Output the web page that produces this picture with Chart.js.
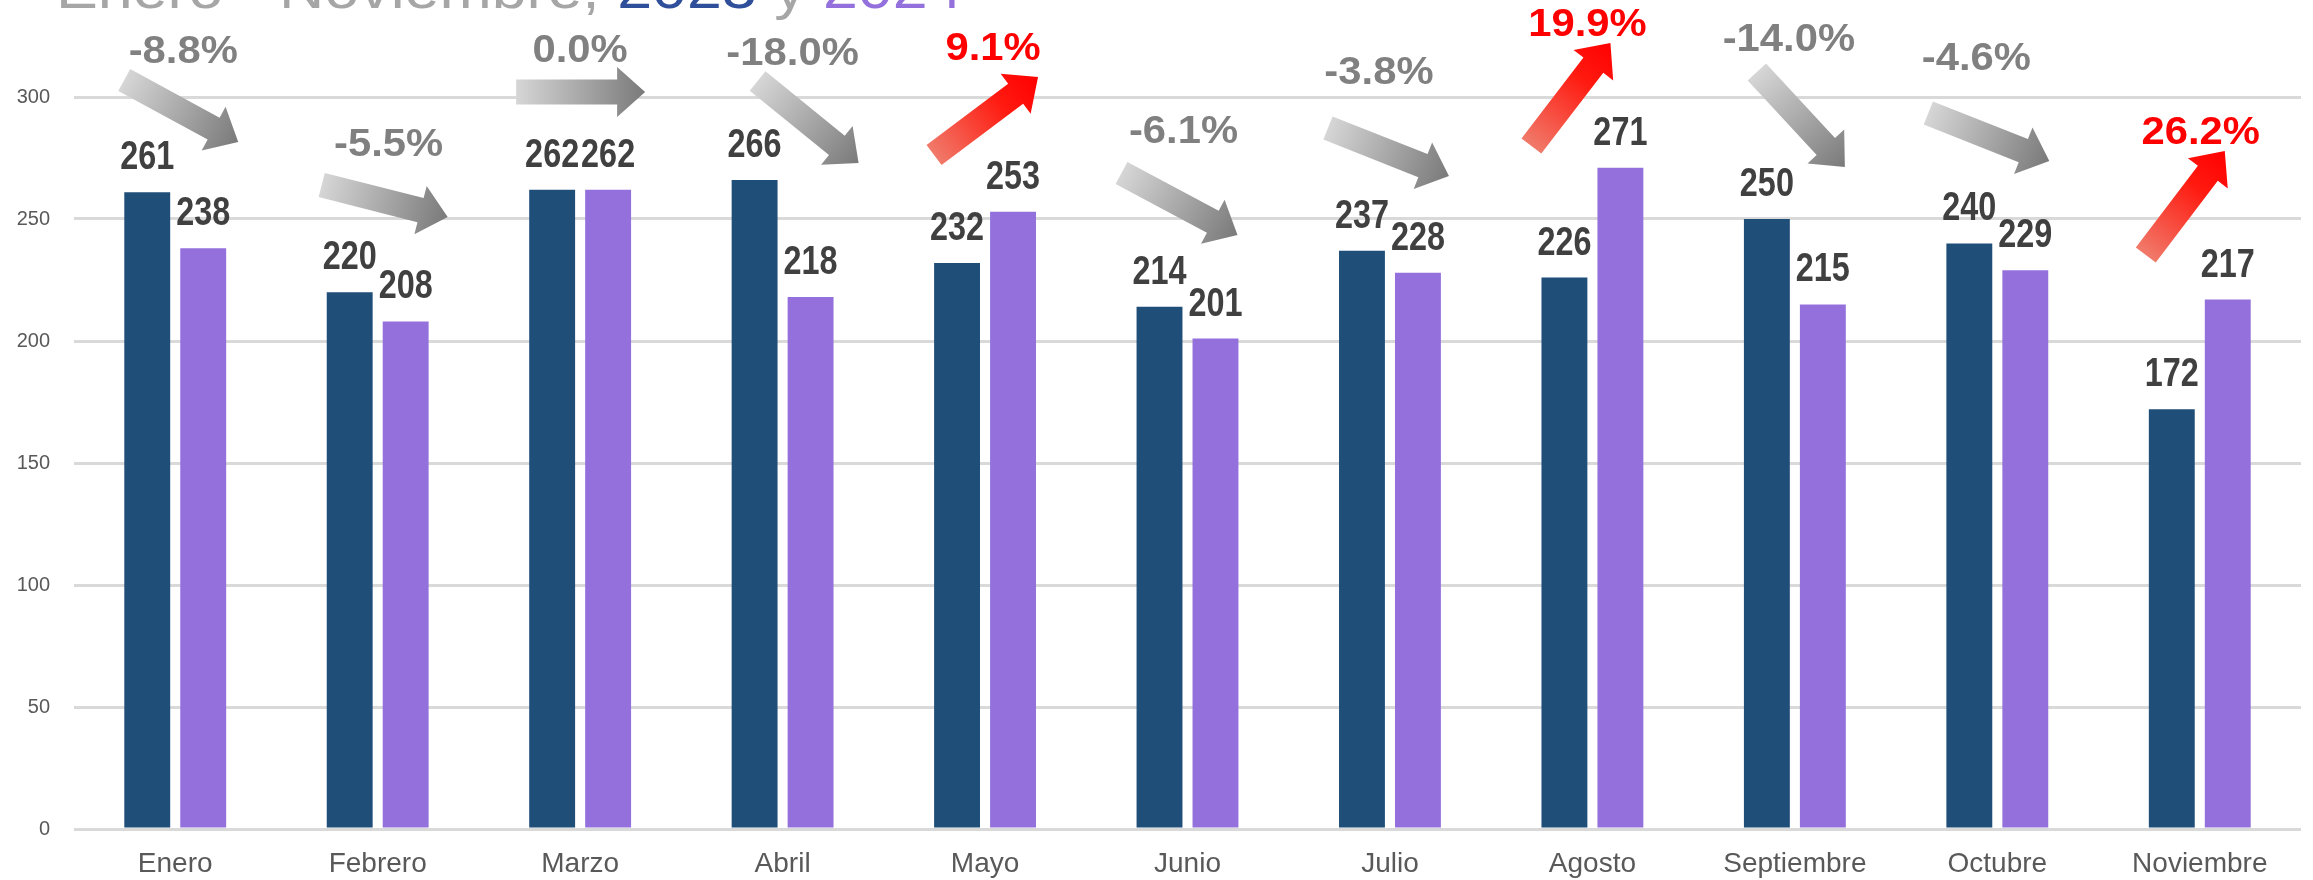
<!DOCTYPE html>
<html>
<head>
<meta charset="utf-8">
<script src="https://cdn.jsdelivr.net/npm/chart.js@4.4.1/dist/chart.umd.min.js"></script>
<style>
  html, body { margin: 0; padding: 0; background: #fff; }
  #wrap { width: 2313px; height: 880px; }
</style>
</head>
<body>
<div id="wrap"><canvas id="chart" width="2313" height="880"></canvas></div>
<script>
const months = ["Enero", "Febrero", "Marzo", "Abril", "Mayo", "Junio", "Julio", "Agosto", "Septiembre", "Octubre", "Noviembre"]
const values2023 = [261, 220, 262, 266, 232, 214, 237, 226, 250, 240, 172]
const values2024 = [238, 208, 262, 218, 253, 201, 228, 271, 215, 229, 217]
const changes = ["-8.8%", "-5.5%", "0.0%", "-18.0%", "9.1%", "-6.1%", "-3.8%", "19.9%", "-14.0%", "-4.6%", "26.2%"]
const yTicks = [0, 50, 100, 150, 200, 250, 300]

// arrow tail / tip (x from month centre, y from top of plot) and % label centre
const arrowLayout = [
  [-51, -17, 63, 45, 8, -48],
  [-56, 88, 70, 120, 11, 45],
  [-64, -5, 65, -5, 0, -49],
  [-25, -16, 76, 66, 10, -46],
  [-51, 58, 53, -20, 8, -51],
  [-66, 76, 50, 138, -4, 32],
  [-62, 31, 59, 79, -11, -27],
  [-61, 49, 18, -54, -5, -75],
  [-38, -25, 50, 70, -6, -60],
  [-69, 16, 52, 64, -21, -41],
  [-54, 158, 25, 54, 1, 33]
]

function stretchText(ctx, txt, x, y, font, color, sx, align) {
  ctx.save()
  ctx.font = font
  ctx.fillStyle = color
  ctx.textAlign = align || "center"
  ctx.textBaseline = "alphabetic"
  ctx.translate(x, y)
  ctx.scale(sx, 1)
  ctx.fillText(txt, 0, 0)
  ctx.restore()
}

function drawArrow(ctx, x0, y0, x1, y1, up) {
  const dx = x1 - x0, dy = y1 - y0, L = Math.hypot(dx, dy)
  const ux = dx / L, uy = dy / L, nx = -uy, ny = ux
  const hs = 12.5, hh = 25, hl = 28
  const sx = x1 - ux * hl, sy = y1 - uy * hl
  const pts = [
    [x0 + nx * hs, y0 + ny * hs], [sx + nx * hs, sy + ny * hs], [sx + nx * hh, sy + ny * hh],
    [x1, y1],
    [sx - nx * hh, sy - ny * hh], [sx - nx * hs, sy - ny * hs], [x0 - nx * hs, y0 - ny * hs]
  ]
  const g = ctx.createLinearGradient(x0, y0, x1, y1)
  if (up) {
    g.addColorStop(0, "#f07a6a")
    g.addColorStop(0.65, "#ff1a10")
    g.addColorStop(1, "#ff0000")
  } else {
    g.addColorStop(0, "#d6d6d6")
    g.addColorStop(1, "#7a7a7a")
  }
  ctx.beginPath()
  pts.forEach((p, i) => i ? ctx.lineTo(p[0], p[1]) : ctx.moveTo(p[0], p[1]))
  ctx.closePath()
  ctx.fillStyle = g
  ctx.fill()
}

// value labels above the bars
const valueLabels = {
  id: "valueLabels",
  afterDatasetsDraw(chart) {
    const ctx = chart.ctx
    chart.data.datasets.forEach((ds, di) => {
      chart.getDatasetMeta(di).data.forEach((bar, i) => {
        stretchText(ctx, String(ds.data[i]), bar.x, bar.y - 23, "bold 40px 'Liberation Sans', Arial", "#404040", 0.81)
      })
    })
  }
}

// change arrows + percentages
const changeArrows = {
  id: "changeArrows",
  afterDatasetsDraw(chart) {
    const ctx = chart.ctx
    const top = chart.chartArea.top
    const xs = chart.scales.x
    changes.forEach((txt, i) => {
      const c = xs.getPixelForValue(i)
      const a = arrowLayout[i]
      const up = parseFloat(txt) > 0
      drawArrow(ctx, c + a[0], top + a[1], c + a[2], top + a[3], up)
      stretchText(ctx, txt, c + a[4], top + a[5] + 14, "bold 38px 'Liberation Sans', Arial",
        up ? "#ff0000" : "#808080", 1.1)
    })
  }
}

// title, cut off at the top edge like in the source
const titleText = {
  id: "titleText",
  afterDraw(chart) {
    const ctx = chart.ctx
    const parts = [["Enero - Noviembre, ", "#a6a6a6"], ["2023", "#2f4f9a"], [" y ", "#a6a6a6"], ["2024", "#9370db"]]
    const sx = 1.12
    let x = 56
    ctx.save()
    ctx.font = "56px 'Liberation Sans', Arial"
    parts.forEach(p => {
      stretchText(ctx, p[0], x, 8, ctx.font, p[1], sx, "left")
      x += ctx.measureText(p[0]).width * sx
    })
    ctx.restore()
  }
}

const ctx = document.getElementById("chart").getContext("2d")
new Chart(ctx, {
  type: "bar",
  data: {
    labels: months,
    datasets: [
      { label: "2023", data: values2023, backgroundColor: "#1f4e79", categoryPercentage: 0.553, barPercentage: 0.82 },
      { label: "2024", data: values2024, backgroundColor: "#9370db", categoryPercentage: 0.553, barPercentage: 0.82 }
    ]
  },
  options: {
    responsive: false,
    animation: false,
    layout: { padding: { top: 97, right: 12, left: 0, bottom: 0 } },
    plugins: { legend: { display: false }, tooltip: { enabled: false } },
    scales: {
      x: {
        grid: { display: false },
        border: { display: false },
        ticks: { color: "#595959", padding: 10, font: { family: "'Liberation Sans'", size: 28 } },
        afterFit(s) { s.height = 51 }
      },
      y: {
        min: 0,
        max: 300,
        afterBuildTicks(s) { s.ticks = yTicks.map(v => ({ value: v })) },
        ticks: { color: "#595959", padding: 24, font: { family: "'Liberation Sans'", size: 20 } },
        grid: { color: "#d9d9d9", lineWidth: 3, drawTicks: false },
        border: { display: false },
        afterFit(s) { s.width = 74 }
      }
    }
  },
  plugins: [valueLabels, changeArrows, titleText]
})
</script>
</body>
</html>
